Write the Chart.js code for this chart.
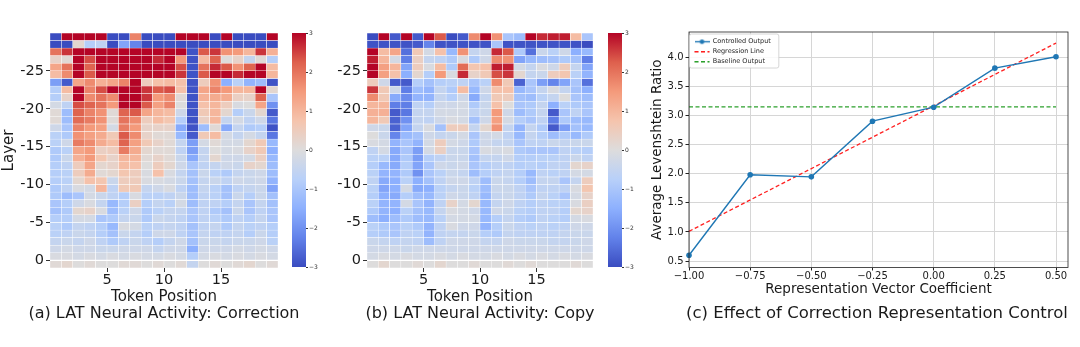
<!DOCTYPE html>
<html>
<head>
<meta charset="utf-8">
<script src="https://cdn.jsdelivr.net/npm/chart.js@4.4.1/dist/chart.umd.min.js"></script>
<style>
  body { margin: 0; background: #fff; overflow: hidden; }
  #wrap { position: relative; width: 1080px; height: 347px; overflow: hidden; }
  canvas { position: absolute; top: 0; }
</style>
</head>
<body>
<div id="wrap">
  <canvas id="heatA" width="328" height="347" style="left:0px"></canvas>
  <canvas id="heatB" width="326" height="347" style="left:317px"></canvas>
  <canvas id="barA" width="50" height="347" style="left:285px"></canvas>
  <canvas id="barB" width="50" height="347" style="left:601px"></canvas>
  <canvas id="lineC" width="474" height="347" style="left:640px"></canvas>
</div>
<script>
// ---- data ----
const tokenTicks = [5, 10, 15];
const layerTicks = [-25, -20, -15, -10, -5, 0];
const colorbarTicks = [-3, -2, -1, 0, 1, 2, 3];

// rows from top (layer -30) to bottom (layer 0), 20 token positions each
const correctionActivity = [
  [-3, 3, 3, 3, 3, -3, -3, 1.8, -3, -3, -3, 3, 3, 3, -3, 3, -3, -3, -3, 3],
  [-3, -3, 0.2, -0.8, -0.6, -3, -1.7, -2.2, -3, -3, -3, -3, -3, -3, -3, -3, -3, -3, -3, -3],
  [2.0, 2.6, 3, 3, 3, 3, 3, 3, 3, 3, 3, 3, -2.9, 2.3, 2.6, 1.6, 1.5, 1.0, 2.6, 1.1],
  [0.3, 0.1, 3, 2.4, 3, 3, 3, 3, 3, 2.7, 3, 1.5, -2.9, 0.9, 2.2, 0, 0.3, -0.5, 0.1, -0.8],
  [1.3, 2.0, 3, 2.2, 3, 3, 3, 3, 3, 3, 3, 2.4, -2.9, 2.0, 2.7, 2.3, 1.6, 2.2, 3, 0.9],
  [0.9, 1.7, 3, 2.3, 3, 3, 3, 3, 3, 3, 3, 2.6, -2.9, 2.3, 3, 3, 2.7, 3, 3, 1.0],
  [-1.8, -2.8, 1.3, 1.7, 1.1, 1.3, 1.8, 3, 0.5, 0.8, 0.9, 0.8, -2.9, 0.5, 1.6, -1.5, -0.7, -1.4, -1.2, -2.9],
  [-0.8, 0.9, 3, 1.8, 2.4, 3, 3, 3, 2.6, 2.3, 2.4, 0.8, -2.9, 1.3, 1.8, 1.5, 1.0, 1.0, 3, 0.2],
  [-0.8, 0.3, 3, 1.7, 2.0, 1.7, 3, 3, 2.6, 1.5, 1.7, 0.1, -2.9, 1.1, 1.2, 1.2, 0.4, 0.3, 2.2, -1.0],
  [-0.2, -0.6, 2.4, 2.2, 2.0, 1.5, 3, 3, 2.3, 1.4, 1.8, 0.0, -2.9, 0.8, 1.0, 0.5, -0.1, 0.0, 1.3, -2.0],
  [0.1, -1.2, 2.2, 1.8, 1.6, 0.1, 2.2, 2.3, 1.3, 1.0, 0.9, -0.3, -2.9, 0.6, 1.0, 0.2, -0.8, -0.4, 0.2, -2.8],
  [0.1, -1.2, 2.1, 1.9, 1.6, 0.1, 2.0, 1.7, 0.5, 0.9, 0.7, -0.8, -2.9, 0.4, 1.0, -0.5, -0.2, -0.6, -0.3, -2.4],
  [-0.3, -1.0, 1.8, 1.5, 1.4, -0.2, 1.9, 1.5, 0.3, 0.3, 0.3, -1.6, -2.9, -1.2, 0.1, -1.6, -0.5, -0.9, -0.8, -2.9],
  [-0.7, -0.9, 1.6, 1.4, 1.2, 0.6, 2.3, 1.7, 0.3, 0.1, 0.1, -1.3, -2.8, 0.6, 0.9, -0.2, -0.5, -0.2, -0.5, -2.4],
  [-0.7, -0.3, 1.9, 1.7, 1.2, 0.9, 2.2, 1.4, 0.6, 0.3, 0.1, -0.5, -1.8, -0.2, 0.1, -0.2, -0.2, 0.2, 0.6, -1.3],
  [-0.9, -0.7, 1.3, 1.5, 0.4, 0.5, 1.9, 1.2, 0.2, 0.1, 0.1, -0.6, -1.8, -0.5, 0, -0.2, -0.1, 0.3, 0.6, -1.5],
  [-0.9, -0.4, 1.1, 1.5, 0.7, 0.3, 1.0, 1.0, 0.1, 0.3, 0.1, -0.4, -1.6, -0.5, 0.2, -0.3, -0.3, -0.2, 0.4, -1.3],
  [-0.8, -0.6, 0.5, 1.3, 0.2, 0.3, 0.9, 0.8, 0.0, 0.5, 0.2, -0.3, -1.0, -0.6, -0.5, -0.3, -0.4, 0.3, 0.2, -1.2],
  [-0.8, -0.7, 0.5, 1.2, 0.1, 0.2, 0.7, 0.5, -0.1, 0.8, -0.1, -0.5, -1.1, -0.4, -0.7, -0.9, -0.5, -0.4, -0.3, -1.2],
  [-0.8, -0.7, 0.2, 0.8, 0.7, -0.4, 0.5, 0.5, -0.1, -0.1, -0.2, -0.4, -1.1, -0.5, -0.4, -0.6, -0.3, -0.4, -0.3, -1.4],
  [-0.9, -0.6, -0.1, -0.2, 1.0, -0.6, 0.6, 0.6, -0.5, -0.3, -0.1, -0.6, -1.2, -0.5, -0.7, -1.1, -0.6, -0.5, -0.4, -1.7],
  [-0.9, -1.2, -1.0, -0.2, -0.4, -0.6, -0.8, -0.1, -0.7, -0.7, -0.6, -0.4, -1.2, -0.6, -0.7, -1.1, -0.4, -0.8, -0.4, -1.1],
  [-1.0, -0.8, -0.3, -0.1, -0.5, -1.3, -0.8, 0.4, -0.8, -0.5, -0.7, -0.2, -1.2, -0.6, -0.6, -0.8, -0.5, -1.0, -0.5, -1.1],
  [-1.1, -0.9, 0.2, 0.3, -0.1, -1.2, -0.7, -0.3, -0.9, -0.7, -0.5, -0.5, -1.0, -0.6, -0.9, -1.1, -0.4, -1.0, -0.6, -1.0],
  [-0.8, -0.8, -0.2, -0.2, -1.0, -0.9, -0.5, -0.4, -0.9, -0.4, -0.5, -0.6, -1.0, -0.6, -0.7, -0.9, -0.6, -0.8, -0.5, -1.0],
  [-0.7, -0.9, -0.5, -0.6, -0.8, -1.3, -0.1, -0.2, -0.7, -0.6, -0.5, -0.6, -1.1, -0.6, -0.5, -0.9, -0.5, -0.7, -0.6, -0.8],
  [-0.7, -0.6, -0.4, -0.5, -0.8, -1.1, -0.4, -0.5, -0.8, -0.3, -0.3, -0.6, -1.0, -0.5, -0.6, -0.6, -0.5, -0.8, -0.4, -0.8],
  [-0.5, -0.4, -0.5, -0.3, -0.6, -0.9, -0.6, -0.4, -0.6, -0.8, -0.5, -0.3, -1.1, -0.4, -0.4, -0.5, -0.4, -0.4, -0.3, -0.7],
  [-0.3, -0.2, -0.3, -0.3, -0.4, -0.4, -0.3, -0.3, -0.3, -0.5, -0.3, -0.3, -1.5, -0.3, -0.3, -0.3, -0.2, -0.3, -0.2, -0.3],
  [-0.1, -0.1, -0.2, -0.1, -0.2, -0.1, -0.2, -0.1, -0.2, -0.2, -0.1, -0.2, -0.8, -0.2, -0.1, -0.2, -0.1, -0.2, -0.1, -0.2],
  [0.1, 0.2, 0.0, 0.1, 0.0, 0.0, 0.1, 0.1, 0.0, 0.1, 0.0, 0.1, -0.5, 0.0, 0.1, 0.0, 0.1, 0.2, 0.0, 0.1]
];

const copyActivity = [
  [-3, 3, -2.8, 3, -2.8, 3, 2.3, -3, -2.8, 1.7, 3, 1.6, -1.0, -1.2, 3, 2.7, 2.8, 2.8, 0.9, -1.0],
  [-2.9, -2.9, -2.9, -2.9, -2.8, -2.2, -2.9, -2.9, -2.9, -2.9, -2.9, -1.0, -2.9, -2.9, -2.9, -2.9, -2.9, -2.9, -2.9, -3],
  [3, 0.9, 1.3, -2.5, 0.6, -0.2, 0.8, -1.3, 1.6, -0.5, -0.3, 2.7, 2.3, -0.9, -2.5, -0.4, -0.7, -0.3, -1.5, -1.3],
  [2.8, 1.0, -0.2, -2.3, 0.4, -0.5, -0.6, -0.9, -0.1, -0.9, -0.3, 1.7, 1.6, -1.7, -1.3, -1.2, -1.1, -0.9, -1.1, -2.3],
  [3, 1.4, 1.0, -1.7, 0.5, -0.1, 0.9, -0.9, 2.1, 0.7, 0.8, 2.8, 2.8, -0.2, -0.5, -0.1, -0.3, 0.5, -0.5, -1.7],
  [3, 1.4, 0.8, -1.5, 0.2, -0.8, 1.5, -0.1, 2.7, 0.3, 0.6, 2.4, 2.6, 0.2, -0.5, -0.4, 0.5, 0.7, -0.7, -1.4],
  [0.5, -0.3, -2.8, -2.8, -0.8, -1.1, -0.8, -0.7, -0.6, -1.0, -0.7, 1.7, 0.6, -2.7, -1.0, -1.8, -2.2, -1.7, -1.0, -2.5],
  [2.6, 0.6, -0.3, -2.3, -1.2, -1.4, -0.5, -0.9, 0.9, -1.3, -0.3, 0.8, 0.8, -1.3, -1.0, -0.5, -0.1, -0.5, -1.1, -1.5],
  [1.7, 0.6, -1.6, -2.1, -1.4, -1.4, -0.5, -0.8, -0.3, -1.6, -0.5, 0.6, 0.5, -1.1, -1.2, -0.7, -0.5, 0.0, -1.0, -1.2],
  [1.0, 1.0, -2.3, -2.3, -0.6, -0.8, -0.3, -0.3, -0.2, -0.9, -0.4, 0.8, 0.0, -1.0, -0.9, -0.5, -1.5, -0.7, -0.9, -1.0],
  [1.1, 1.1, -2.8, -2.4, -0.5, -0.5, -0.2, -0.2, -0.2, -0.6, -0.4, 1.5, -0.3, -1.2, -0.9, -0.5, -2.8, -1.0, -0.6, -1.0],
  [1.0, 0.6, -2.7, -2.0, -0.5, -0.6, -0.3, -0.1, -0.2, -1.1, -0.3, 1.4, -0.2, -0.8, -1.0, -0.6, -2.3, -0.9, -1.2, -1.3],
  [-0.3, -0.4, -2.7, -1.7, -0.5, -0.1, -1.1, 0.5, 0.5, -0.5, 0.2, 1.6, -0.5, -1.4, -0.5, -0.9, -2.8, -1.8, -1.1, -1.3],
  [0.0, -0.4, -2.2, -1.3, -1.1, -0.3, -0.5, -0.4, -0.2, -1.0, -0.3, -0.2, -0.6, -1.3, -0.5, -0.8, -1.2, -0.9, -1.3, -0.9],
  [-0.1, -0.2, -1.4, -1.0, -1.4, -0.2, 0.5, -0.2, -0.3, -0.9, -0.3, -0.5, -0.5, -1.0, -0.6, -0.6, -0.4, -0.5, -0.4, -0.4],
  [-0.6, -0.2, -1.6, -1.0, -1.8, -0.2, 0.4, -0.4, -0.4, -1.0, -0.1, -0.2, -0.1, -0.9, -1.0, -1.0, -1.0, -0.6, -0.7, -0.8],
  [-0.7, -0.7, -1.6, -0.9, -1.8, -0.8, -0.6, -0.4, -0.4, -1.1, -0.5, -0.5, -0.3, -0.8, -0.8, -0.7, -0.7, -0.6, -0.4, -0.6],
  [-0.8, -1.3, -1.6, -0.8, -1.7, -1.0, -0.3, -0.4, -0.3, -1.0, -0.8, -0.6, -0.6, -0.8, -0.7, -0.8, -0.6, -0.6, 0.2, 0.3],
  [-0.7, -1.4, -1.4, -0.9, -2.0, -1.0, -0.7, -0.4, -0.5, -1.2, -0.8, -0.6, -0.5, -0.8, -1.3, -0.6, -0.7, -0.6, -0.2, -0.2],
  [-0.6, -1.6, -1.5, -0.7, -1.5, -1.1, -0.6, -0.3, -0.3, -0.6, -1.2, -0.4, -0.5, -0.8, -1.2, -0.5, -0.5, -1.0, -0.5, 0.5],
  [-0.7, -1.7, -1.5, -0.2, -1.6, -1.5, -0.7, -0.5, -0.4, -0.7, -1.2, -0.4, -0.4, -0.6, -1.0, -0.6, -0.6, -0.6, -0.1, 0.7],
  [-0.8, -1.5, -1.6, -0.8, -1.2, -1.3, -0.7, -0.3, -0.4, -0.6, -1.3, -0.5, -0.4, -0.6, -0.9, -0.5, -0.7, -1.0, -0.2, 0.3],
  [-0.7, -1.4, -1.4, -0.2, -1.0, -1.4, -0.6, 0.3, -0.2, 0.2, -1.3, -0.5, -0.3, -0.6, -0.8, -0.6, -0.7, -0.7, -0.1, 0.4],
  [-0.9, -1.4, -1.5, -0.7, -1.1, -1.3, -0.5, -0.1, -0.2, -0.3, -1.3, -0.3, -0.4, -0.7, -0.8, -0.6, -0.6, -0.8, 0.2, 0.3],
  [-1.2, -1.5, -1.2, -0.9, -1.2, -1.3, -0.7, -0.2, -0.2, -0.2, -1.3, -0.8, -0.5, -0.8, -0.9, -0.6, -0.7, -0.8, -0.2, -0.1],
  [-0.7, -0.9, -1.0, -0.7, -0.9, -1.4, -0.6, -0.1, -0.3, -0.3, -1.4, -0.8, -0.4, -0.6, -0.7, -0.6, -0.7, -0.6, -0.3, -0.3],
  [-0.8, -0.9, -1.0, -0.6, -0.7, -1.4, -0.6, -0.5, -0.5, -0.4, -0.8, -0.9, -0.5, -0.6, -0.6, -0.6, -0.6, -0.5, -0.4, -0.4],
  [-0.4, -0.5, -0.6, -0.5, -0.6, -1.2, -0.6, -0.3, -0.3, -0.3, -0.5, -0.5, -0.3, -0.4, -0.4, -0.4, -0.5, -0.5, -0.4, -0.3],
  [-0.3, -0.3, -0.3, -0.4, -0.3, -0.3, -0.3, -0.3, -0.3, -0.3, -0.3, -0.3, -0.3, -0.3, -0.3, -0.3, -0.3, -0.3, -0.3, -0.3],
  [-0.2, -0.1, -0.2, -0.1, -0.2, -0.2, -0.1, -0.2, -0.1, -0.2, -0.2, -0.1, -0.2, -0.1, -0.2, -0.1, -0.2, -0.1, -0.2, -0.1],
  [0.0, 0.2, 0.0, 0.0, 0.1, 0.0, 0.2, 0.0, 0.0, 0.1, 0.0, 0.0, 0.1, 0.0, 0.1, 0.0, 0.0, 0.0, 0.1, 0.0]
];

const coefficients = [-1.0, -0.75, -0.5, -0.25, 0.0, 0.25, 0.5];
const controlledOutput = [0.60, 1.98, 1.945, 2.90, 3.14, 3.81, 4.005];
const regressionX = [-1.0, 0.5];
const regressionY = [1.01, 4.24];
const baselineOutput = 3.145;
const coefTicks = [-1.0, -0.75, -0.5, -0.25, 0.0, 0.25, 0.5];
const ratioTicks = [0.5, 1.0, 1.5, 2.0, 2.5, 3.0, 3.5, 4.0];

// ---- style ----
Chart.defaults.font.family = "'DejaVu Sans', sans-serif";
Chart.defaults.color = '#1a1a1a';

// coolwarm colormap, vmin -3 / vmax 3
const coolwarm = [
  [58, 76, 192], [98, 130, 234], [141, 176, 254], [184, 208, 249],
  [221, 220, 220], [245, 196, 173], [244, 154, 123], [222, 96, 77], [180, 4, 38]
];
function cmap(v) {
  const t = Math.max(0, Math.min(1, (v + 3) / 6)) * (coolwarm.length - 1);
  const i = Math.min(coolwarm.length - 2, Math.floor(t));
  const f = t - i;
  const a = coolwarm[i], b = coolwarm[i + 1];
  const c = a.map((x, k) => Math.round(x + (b[k] - x) * f));
  return `rgb(${c[0]},${c[1]},${c[2]})`;
}

const minus = v => (v < 0 ? '\u2212' : '') + Math.abs(v);

// empty axis on the right, only there to keep the caption centred under the plot
const spacerAxis = w => ({
  position: 'right',
  afterFit: s => { s.width = w; },
  ticks: { display: false },
  grid: { display: false },
  border: { display: false }
});

function makeHeatmap(id, rows, caption, showYTitle) {
  const cells = [];
  const colors = [];
  rows.forEach((row, r) => {
    row.forEach((v, c) => {
      cells.push({ x: c + 0.5, y: [r - 30, r - 29] });
      colors.push(cmap(v));
    });
  });
  new Chart(document.getElementById(id), {
    type: 'bar',
    data: {
      datasets: [{
        data: cells,
        backgroundColor: colors,
        borderColor: '#ffffff',
        borderWidth: 0.5,
        borderSkipped: false,
        barPercentage: 1,
        categoryPercentage: 1
      }]
    },
    options: {
      responsive: false,
      animation: false,
      events: [],
      layout: { padding: { left: 0, right: 0, top: 33, bottom: 25 } },
      plugins: {
        legend: { display: false },
        tooltip: { enabled: false },
        title: {
          display: true,
          position: 'bottom',
          text: caption,
          color: '#1a1a1a',
          font: { size: 16, weight: 'normal', lineHeight: 1 },
          padding: 0
        }
      },
      scales: {
        x: {
          type: 'linear',
          min: 0,
          max: 20,
          offset: false,
          afterBuildTicks: s => { s.ticks = tokenTicks.map(v => ({ value: v })); },
          afterFit: s => { s.height = 38; },
          ticks: { font: { size: 14.5 }, padding: 0, autoSkip: false, maxRotation: 0 },
          grid: { drawOnChartArea: false, offset: false, tickLength: 4, tickColor: '#333' },
          border: { display: false },
          title: {
            display: true,
            text: 'Token Position',
            font: { size: 15, lineHeight: 1 },
            padding: { top: 0, bottom: 1.5 }
          }
        },
        y: {
          type: 'linear',
          min: -30,
          max: 1,
          reverse: true,
          afterBuildTicks: s => { s.ticks = layerTicks.map(v => ({ value: v })); },
          afterFit: s => { s.width = 50; },
          ticks: { font: { size: 14.5 }, padding: 2, autoSkip: false, callback: v => String(v) },
          grid: { drawOnChartArea: false, tickLength: 4, tickColor: '#333' },
          border: { display: false },
          title: {
            display: showYTitle,
            text: 'Layer',
            font: { size: 15, lineHeight: 1 },
            padding: { top: 2, bottom: 0 }
          }
        },
        yR: spacerAxis(50)
      }
    }
  });
}

function makeColorbar(id) {
  new Chart(document.getElementById(id), {
    type: 'bar',
    data: {
      labels: [''],
      datasets: [{
        data: [[colorbarTicks[0], colorbarTicks[colorbarTicks.length - 1]]],
        backgroundColor: c => {
          const area = c.chart.chartArea;
          if (!area) return null;
          const g = c.chart.ctx.createLinearGradient(0, area.bottom, 0, area.top);
          coolwarm.forEach((s, i) => g.addColorStop(i / (coolwarm.length - 1), `rgb(${s[0]},${s[1]},${s[2]})`));
          return g;
        },
        borderWidth: 0,
        barPercentage: 1,
        categoryPercentage: 1
      }]
    },
    options: {
      responsive: false,
      animation: false,
      events: [],
      layout: { padding: { left: 7, right: 0, top: 33, bottom: 80 } },
      plugins: { legend: { display: false }, tooltip: { enabled: false } },
      scales: {
        x: { display: false },
        y: {
          position: 'right',
          min: -3,
          max: 3,
          afterBuildTicks: s => { s.ticks = colorbarTicks.map(v => ({ value: v })); },
          afterFit: s => { s.width = 29; },
          ticks: { font: { size: 6 }, color: '#333', padding: 1, callback: v => minus(v) },
          grid: { drawOnChartArea: false, tickLength: 2, tickColor: '#333' },
          border: { display: false }
        }
      }
    }
  });
}

makeHeatmap('heatA', correctionActivity, '(a) LAT Neural Activity: Correction', true);
makeHeatmap('heatB', copyActivity, '(b) LAT Neural Activity: Copy', false);
makeColorbar('barA');
makeColorbar('barB');

// ---- line chart ----
const markerIcon = document.createElement('canvas');
markerIcon.width = 15;
markerIcon.height = 7;
(() => {
  const g = markerIcon.getContext('2d');
  g.strokeStyle = '#1f77b4';
  g.fillStyle = '#1f77b4';
  g.lineWidth = 1.3;
  g.beginPath(); g.moveTo(0, 3.5); g.lineTo(15, 3.5); g.stroke();
  g.beginPath(); g.arc(7.5, 3.5, 2.3, 0, Math.PI * 2); g.fill();
})();

const framePlugin = {
  id: 'frame',
  // keep the legend inside the plot, in the upper left corner
  afterLayout(chart) {
    const lg = chart.legend, a = chart.chartArea;
    if (!lg) return;
    const h = lg.height, w = lg.width;
    lg.top = a.top + 3;
    lg.bottom = lg.top + h;
    lg.left = a.left + 2;
    lg.right = lg.left + w;
  },
  afterDraw(chart) {
    const { ctx, chartArea: a } = chart;
    ctx.save();
    ctx.strokeStyle = '#222';
    ctx.lineWidth = 0.8;
    ctx.strokeRect(a.left, a.top, a.right - a.left, a.bottom - a.top);
    const lg = chart.legend;
    if (lg && lg.legendHitBoxes && lg.legendHitBoxes.length) {
      const hb = lg.legendHitBoxes;
      const l = Math.min(...hb.map(b => b.left)) - 5;
      const t = Math.min(...hb.map(b => b.top)) - 4.5;
      const r = Math.max(...hb.map(b => b.left + b.width)) + 8;
      const btm = Math.max(...hb.map(b => b.top + b.height)) + 3;
      ctx.beginPath();
      ctx.roundRect(l, t, r - l, btm - t, 2);
      ctx.fillStyle = 'rgba(255,255,255,0.85)';
      ctx.fill();
      ctx.strokeStyle = '#cccccc';
      ctx.lineWidth = 0.8;
      ctx.stroke();
      ctx.restore();
      lg.draw();
      return;
    }
    ctx.restore();
  }
};

new Chart(document.getElementById('lineC'), {
  type: 'line',
  data: {
    datasets: [
      {
        label: 'Controlled Output',
        data: coefficients.map((x, i) => ({ x, y: controlledOutput[i] })),
        borderColor: '#1f77b4',
        backgroundColor: '#1f77b4',
        borderWidth: 1.4,
        pointRadius: 2.8,
        pointBorderWidth: 0,
        tension: 0
      },
      {
        label: 'Regression Line',
        data: regressionX.map((x, i) => ({ x, y: regressionY[i] })),
        borderColor: '#ff2020',
        borderWidth: 1.3,
        borderDash: [4, 2.5],
        pointRadius: 0
      },
      {
        label: 'Baseline Output',
        data: [{ x: coefTicks[0], y: baselineOutput }, { x: coefTicks[coefTicks.length - 1], y: baselineOutput }],
        borderColor: '#2ca02c',
        borderWidth: 1.3,
        borderDash: [4, 2.5],
        pointRadius: 0
      }
    ]
  },
  options: {
    responsive: false,
    animation: false,
    events: [],
    clip: false,
    layout: { padding: { left: 0, right: 0, top: 32, bottom: 25 } },
    plugins: {
      tooltip: { enabled: false },
      legend: {
        position: 'chartArea',
        align: 'start',
        labels: {
          usePointStyle: true,
          pointStyleWidth: 15,
          boxHeight: 6.5,
          padding: 3.5,
          color: '#333',
          font: { size: 6.5 },
          generateLabels: chart => {
            const items = Chart.defaults.plugins.legend.labels.generateLabels(chart);
            items.forEach((it, i) => {
              const ds = chart.data.datasets[i];
              it.pointStyle = i === 0 ? markerIcon : 'line';
              it.lineWidth = 1.3;
              it.lineDash = ds.borderDash || [];
              it.strokeStyle = ds.borderColor;
              it.fontColor = '#333';
            });
            return items;
          }
        }
      },
      title: {
        display: true,
        position: 'bottom',
        text: '(c) Effect of Correction Representation Control',
        color: '#1a1a1a',
        font: { size: 16.5, weight: 'normal', lineHeight: 1 },
        padding: 0
      }
    },
    scales: {
      x: {
        type: 'linear',
        min: -1.0,
        max: 0.549,
        afterBuildTicks: s => { s.ticks = coefTicks.map(v => ({ value: v })); },
        afterFit: s => { s.height = 38; },
        ticks: { font: { size: 10 }, padding: 0, autoSkip: false, maxRotation: 0, callback: v => (v < 0 ? '\u2212' : '') + Math.abs(v).toFixed(2) },
        grid: { color: '#d6d6d6', lineWidth: 1, tickLength: 3, tickColor: '#222' },
        border: { display: false },
        title: {
          display: true,
          text: 'Representation Vector Coefficient',
          font: { size: 13.5, lineHeight: 1 },
          padding: { top: 0, bottom: 9 }
        }
      },
      y: {
        type: 'linear',
        min: 0.39,
        max: 4.43,
        afterBuildTicks: s => { s.ticks = ratioTicks.map(v => ({ value: v })); },
        afterFit: s => { s.width = 49; },
        ticks: { font: { size: 10 }, padding: 2, autoSkip: false, callback: v => v.toFixed(1) },
        grid: { color: '#d6d6d6', lineWidth: 1, tickLength: 3.5, tickColor: '#222' },
        border: { display: false },
        title: {
          display: true,
          text: 'Average Levenshtein Ratio',
          font: { size: 13.5, lineHeight: 1 },
          padding: { top: 11, bottom: 0 }
        }
      },
      yR: spacerAxis(46)
    }
  },
  plugins: [framePlugin]
});
</script>
</body>
</html>
